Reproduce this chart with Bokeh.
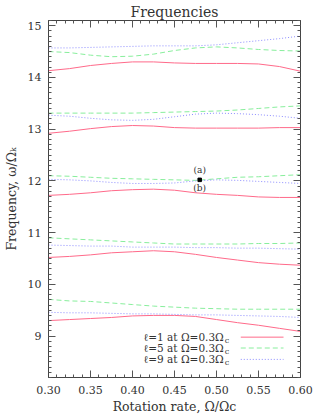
from bokeh.plotting import figure
from bokeh.models import (Range1d, LinearAxis, SingleIntervalTicker, PrintfTickFormatter, Label,
                          CustomJSTickFormatter)
from bokeh.embed import file_html
from bokeh.resources import INLINE

# ---------------- data ----------------
omega = [0.300, 0.325, 0.350, 0.375, 0.400, 0.425, 0.450, 0.475, 0.500, 0.525, 0.550, 0.575, 0.600]

# l=1 branches (solid red)
l1_b1 = [9.30, 9.32, 9.34, 9.36, 9.39, 9.40, 9.40, 9.38, 9.32, 9.26, 9.21, 9.15, 9.09]
l1_b2 = [10.52, 10.54, 10.57, 10.61, 10.63, 10.65, 10.63, 10.58, 10.52, 10.47, 10.42, 10.39, 10.37]
l1_b3 = [11.72, 11.74, 11.77, 11.81, 11.83, 11.84, 11.82, 11.77, 11.74, 11.72, 11.69, 11.68, 11.68]
l1_b4 = [12.92, 12.96, 13.01, 13.05, 13.07, 13.06, 13.03, 13.02, 13.02, 13.02, 13.02, 13.03, 13.03]
l1_b5 = [14.13, 14.17, 14.23, 14.27, 14.30, 14.30, 14.28, 14.27, 14.27, 14.27, 14.26, 14.21, 14.12]

# l=5 branches (dashed green)
l5_b1 = [9.71, 9.68, 9.67, 9.64, 9.61, 9.58, 9.56, 9.54, 9.53, 9.52, 9.52, 9.52, 9.52]
l5_b2 = [10.90, 10.88, 10.86, 10.84, 10.82, 10.80, 10.78, 10.78, 10.78, 10.78, 10.79, 10.79, 10.80]
l5_b3 = [12.10, 12.09, 12.07, 12.05, 12.04, 12.03, 12.02, 12.01, 12.04, 12.07, 12.08, 12.10, 12.12]
l5_b4 = [13.31, 13.31, 13.31, 13.31, 13.31, 13.32, 13.33, 13.34, 13.35, 13.37, 13.40, 13.43, 13.45]
l5_b5 = [14.50, 14.48, 14.43, 14.40, 14.41, 14.45, 14.52, 14.57, 14.59, 14.57, 14.54, 14.52, 14.51]

# l=9 branches (dotted blue)
l9_b1 = [9.46, 9.45, 9.45, 9.44, 9.43, 9.43, 9.42, 9.41, 9.41, 9.40, 9.39, 9.38, 9.36]
l9_b2 = [10.76, 10.75, 10.74, 10.74, 10.72, 10.72, 10.72, 10.71, 10.71, 10.70, 10.70, 10.69, 10.68]
l9_b3 = [12.03, 12.02, 12.00, 11.97, 11.95, 11.95, 11.96, 12.00, 12.02, 12.01, 11.99, 11.97, 11.95]
l9_b4 = [13.27, 13.25, 13.21, 13.18, 13.17, 13.19, 13.24, 13.29, 13.31, 13.30, 13.28, 13.25, 13.21]
l9_b5 = [14.57, 14.57, 14.58, 14.59, 14.60, 14.61, 14.61, 14.61, 14.63, 14.67, 14.71, 14.75, 14.80]

marker_x = [0.480]
marker_y = [12.02]
ann_labels = ["(a)", "(b)"]
ann_y = [12.207, 11.858]

legend_labels = ["\u2113=1 at \u03a9=0.3\u03a9", "\u2113=5 at \u03a9=0.3\u03a9", "\u2113=9 at \u03a9=0.3\u03a9"]

title_text = "Frequencies"
x_label = "Rotation rate, \u03a9/\u03a9c"
y_label = "Frequency, \u03c9/\u03a9\u2096"

x_ticks_interval = 0.05
y_ticks_interval = 1

FONT = "DejaVu Serif"
RED = "#ff6a8a"
GREEN = "#88ee9c"
BLUE = "#8c8cff"
TXT = "#333333"

p = figure(width=316, height=420, output_backend="svg", toolbar_location=None,
           x_range=Range1d(0.30, 0.600001), y_range=Range1d(8.2, 15.1),
           x_axis_type=None, y_axis_type=None, title=title_text,
           min_border_left=47, min_border_right=16, min_border_top=20, min_border_bottom=43)
p.background_fill_color = "white"
p.border_fill_color = "white"
p.outline_line_color = "#444444"
p.xgrid.visible = False
p.ygrid.visible = False
p.title.text_font = FONT
p.title.text_font_size = "14px"
p.title.text_font_style = "normal"
p.title.text_color = TXT
p.title.align = "center"
p.title.standoff = 1
p.title.offset = 0

def make_axis(kind, labels):
    if kind == "x":
        t = SingleIntervalTicker(interval=x_ticks_interval, num_minor_ticks=5)
    else:
        t = SingleIntervalTicker(interval=y_ticks_interval, num_minor_ticks=10)
    ax = LinearAxis(ticker=t)
    ax.major_tick_in = 7
    ax.major_tick_out = 0
    ax.minor_tick_in = 3
    ax.minor_tick_out = 0
    ax.axis_line_color = "#444444"
    ax.major_tick_line_color = "#555555"
    ax.minor_tick_line_color = "#555555"
    if labels:
        ax.major_label_text_font = FONT
        ax.major_label_text_font_size = "11px"
        ax.major_label_text_color = TXT
        ax.major_label_standoff = 8 if kind == "x" else 7
        ax.axis_label_text_font = FONT
        ax.axis_label_text_font_size = "12.5px"
        ax.axis_label_text_font_style = "normal"
        ax.axis_label_text_color = TXT
        if kind == "x":
            ax.formatter = PrintfTickFormatter(format="%.2f")
            ax.axis_label = x_label
            ax.axis_label_standoff = 2
        else:
            ax.axis_label = y_label
            ax.axis_label_standoff = 6
    else:
        ax.formatter = CustomJSTickFormatter(code='return ""')
        ax.major_label_standoff = 0
    return ax

p.add_layout(make_axis("x", True), "below")
p.add_layout(make_axis("x", False), "above")
p.add_layout(make_axis("y", True), "left")
p.add_layout(make_axis("y", False), "right")

for ys in [l1_b1, l1_b2, l1_b3, l1_b4, l1_b5]:
    p.line(omega, ys, line_color=RED, line_width=1)
for ys in [l5_b1, l5_b2, l5_b3, l5_b4, l5_b5]:
    p.line(omega, ys, line_color=GREEN, line_width=1, line_dash="5 3")
for ys in [l9_b1, l9_b2, l9_b3, l9_b4, l9_b5]:
    p.line(omega, ys, line_color=BLUE, line_width=1, line_dash="1 2")

p.scatter(marker_x, marker_y, marker="square", size=3.5, fill_color="black", line_color="black")
for lab, yy in zip(ann_labels, ann_y):
    p.add_layout(Label(x=marker_x[0], y=yy, text=lab, text_font=FONT, text_font_size="9px",
                       text_color=TXT, text_align="center", text_baseline="middle"))

# legend (text then sample line)
leg_text_right = 0.5087
leg_line_x0, leg_line_x1 = 0.5289, 0.5798
leg_rows_y = [8.98, 8.77, 8.55]
leg_styles = [(RED, "solid"), (GREEN, "5 3"), (BLUE, "1 2")]
for lab, yy, (col, dash) in zip(legend_labels, leg_rows_y, leg_styles):
    p.add_layout(Label(x=leg_text_right, y=yy, text=lab, text_font=FONT, text_font_size="10.5px",
                       text_color=TXT, text_align="right", text_baseline="middle"))
    p.add_layout(Label(x=leg_text_right, y=yy, x_offset=1, y_offset=-3, text="c", text_font=FONT,
                       text_font_size="8px", text_color=TXT, text_align="left", text_baseline="middle"))
    p.segment(x0=[leg_line_x0], y0=[yy], x1=[leg_line_x1], y1=[yy], line_color=col,
              line_width=1, line_dash=dash)

open("out.html", "w").write(file_html(p, INLINE))
